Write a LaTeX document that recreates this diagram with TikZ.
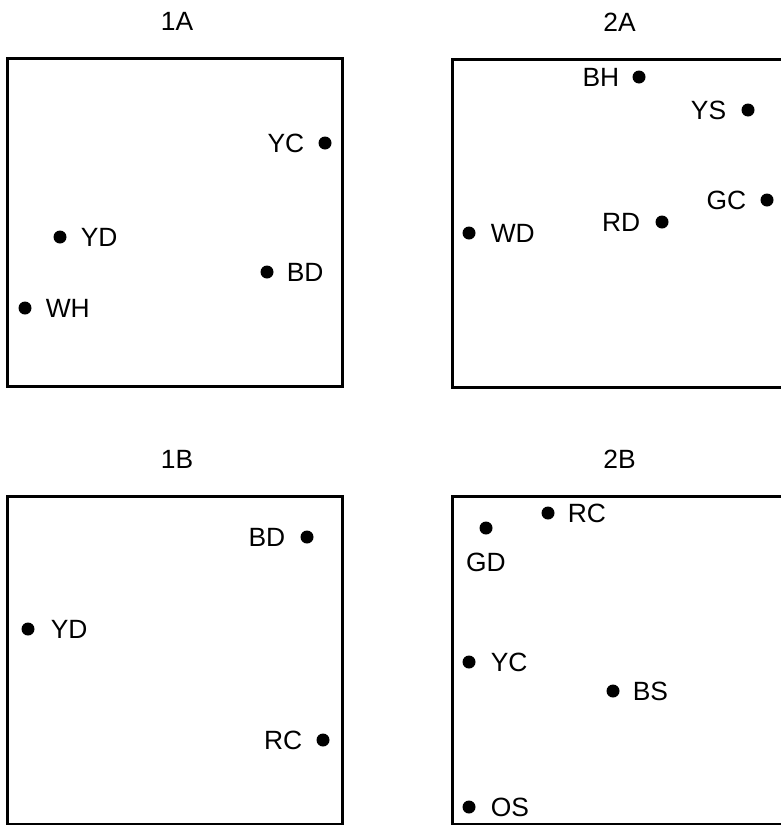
\documentclass[tikz,border=0pt]{standalone}
\usepackage{fontspec}
\setmainfont{Liberation Sans}
\usetikzlibrary{positioning}

\begin{document}
\begin{tikzpicture}[
    x=0.5pt, y=-0.5pt,
    panel/.style={rectangle, draw=black, line width=1.5pt, minimum width=167.5pt, minimum height=164pt, inner sep=0pt},
    dot/.style={circle, fill=black, inner sep=0pt, minimum size=6.5pt},
    tag/.style={inner sep=0pt, font=\fontsize{13.2}{16}\selectfont},
    title/.style={tag}
]

\useasboundingbox (0,0) rectangle (781,825);

% Panels
\node[panel] (p1a) at (174.5, 222.5) {};
\node[panel] (p2a) at (619.5, 223) {};
\node[panel] (p1b) at (174.5, 660) {};
\node[panel] (p2b) at (619.5, 660) {};

% Titles
\node[title, above=13pt of p1a, xshift=1.25pt] {1A};
\node[title, above=13pt of p2a] {2A};
\node[title, above=13pt of p1b, xshift=1.25pt] {1B};
\node[title, above=13pt of p2b] {2B};

% Panel 1A
\node[dot] (ycA1) at (325, 143) {};
\node[dot] (ydA1) at (60, 237) {};
\node[dot] (bdA1) at (267, 272) {};
\node[dot] (whA1) at (25, 308) {};
\node[tag, left=6.75pt of ycA1] {YC};
\node[tag, right=6.75pt of ydA1] {YD};
\node[tag, right=6.25pt of bdA1] {BD};
\node[tag, right=6.75pt of whA1] {WH};

% Panel 2A
\node[dot] (bhA2) at (639, 77) {};
\node[dot] (ysA2) at (748, 110) {};
\node[dot] (gcA2) at (767, 200) {};
\node[dot] (rdA2) at (662, 222) {};
\node[dot] (wdA2) at (469, 233) {};
\node[tag, left=6.25pt of bhA2] {BH};
\node[tag, left=7.25pt of ysA2] {YS};
\node[tag, left=6.75pt of gcA2] {GC};
\node[tag, left=7.25pt of rdA2] {RD};
\node[tag, right=7.25pt of wdA2] {WD};

% Panel 1B
\node[dot] (bdB1) at (307, 537) {};
\node[dot] (ydB1) at (28, 629) {};
\node[dot] (rcB1) at (323, 740) {};
\node[tag, left=7.25pt of bdB1] {BD};
\node[tag, right=7.75pt of ydB1] {YD};
\node[tag, left=6.75pt of rcB1] {RC};

% Panel 2B
\node[dot] (rcB2) at (548, 513) {};
\node[dot] (gdB2) at (486, 528) {};
\node[dot] (ycB2) at (469, 662) {};
\node[dot] (bsB2) at (613, 691) {};
\node[dot] (osB2) at (469, 807) {};
\node[tag, right=6.25pt of rcB2] {RC};
\node[tag, below=8.75pt of gdB2] {GD};
\node[tag, right=7.25pt of ycB2] {YC};
\node[tag, right=6.25pt of bsB2] {BS};
\node[tag, right=7.25pt of osB2] {OS};

\end{tikzpicture}
\end{document}
